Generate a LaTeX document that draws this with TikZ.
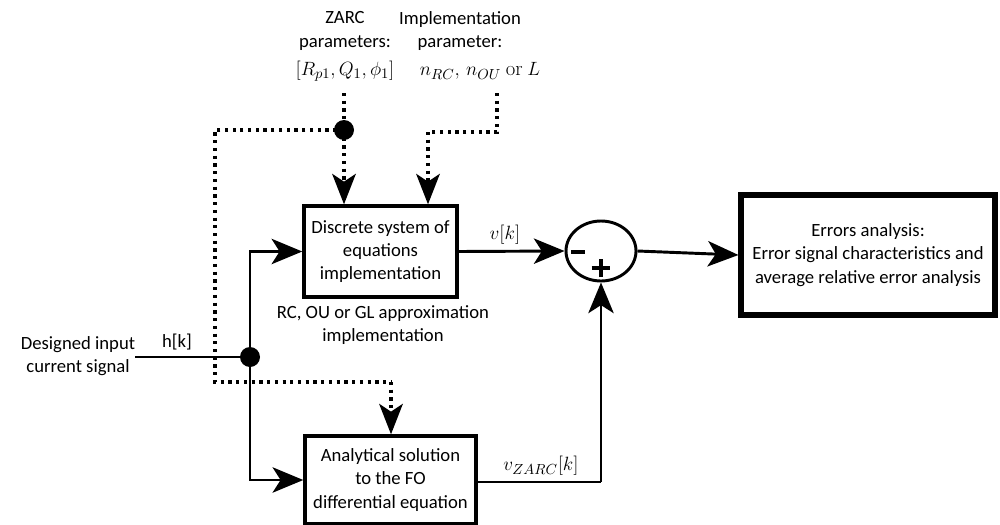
\documentclass[tikz,border=0pt]{standalone}
\usepackage{fontspec}
\setmainfont{Carlito}
\newfontfamily\lmrfont{Latin Modern Roman}
\usetikzlibrary{arrows.meta,shapes.geometric}
\begin{document}
\begin{tikzpicture}[x=0.75pt,y=-0.75pt,
  font=\fontsize{14pt}{17.5pt}\selectfont,
  blk/.style={draw,line width=2.6pt,rectangle,align=center,inner sep=0pt},
  lbl/.style={inner sep=0pt,align=center},
  mth/.style={inner sep=0pt,align=center,font=\fontsize{15.5pt}{18pt}\selectfont},
  sig/.style={line width=2.2pt},
  sgn/.style={line width=2.3pt},
  arr/.style={sig,-{Stealth[length=23pt,width=19pt,inset=6pt]}},
  dotl/.style={line width=2.6pt,dash pattern=on 2.4pt off 3.4pt},
  darr/.style={dotl,-{Stealth[length=23pt,width=18pt,inset=6pt,line width=0pt,sep=0pt]}},
  jdot/.style={circle,fill,inner sep=0pt,minimum size=15pt}]
\useasboundingbox (0,0) rectangle (1000,525);
\begin{scope}
\clip (0,0) rectangle (1000,525);
% blocks
\node[blk,minimum width=114.75pt,minimum height=68.25pt] (disc) at (380.5,251.5)
  {Discrete system of\\equations\\implementation};
\node[blk,minimum width=128.25pt,minimum height=66pt] (anal) at (390.5,480)
  {Analytical solution\\to the FO\\differential equation};
\node[blk,line width=3.8pt,minimum width=190.5pt,minimum height=90pt] (err) at (868,255)
  {Errors analysis:\\Error signal characteristics and\\average relative error analysis};
\node[draw,ellipse,line width=2.2pt,minimum width=52.5pt,minimum height=45pt,inner sep=0pt] (sum) at (601,251) {};
% signs
\coordinate (minus) at (578,252);
\coordinate (plus) at (601,268);
\draw[sgn] ([xshift=-5]minus) -- ([xshift=5]minus);
\draw[sgn] ([xshift=-7]plus) -- ([xshift=7]plus);
\draw[sgn] ([yshift=-7]plus) -- ([yshift=7]plus);
% texts
\node[lbl] (rcou) at (383,325) {RC, OU or GL approximation\\implementation};
\node[lbl] (input) at (78,356) {Designed input\\current signal};
\node[lbl] (hk) at (177,342) {h[k]};
\node[mth] (vk) at (505,235) {$v[k]$};
\node[mth] (vz) at (541,466) {$v_{ZARC}[k]$};
\node[lbl] (zarc) at (345,31) {ZARC\\parameters:};
\node[mth] (zarcm) at (345,71) {$[R_{p1},Q_1,\phi_1]$};
\node[lbl] (impl) at (460,31) {Implementation\\parameter:};
\node[mth] (implm) at (480,71) {$n_{RC},\, n_{OU}$ {\lmrfont or} $L$};
% coordinates
\coordinate (inS) at (135,357);
\node[jdot] (jin) at (250,357) {};
\node[jdot] (jz) at (344,130) {};
\coordinate (zS) at (344,93);
\coordinate (iS) at (497,93);
\coordinate (iC) at (497,132);
\coordinate (iD) at (428,132);
\coordinate (zL) at (215,130);
\coordinate (zB) at (215,382);
\coordinate (zR) at (391,382);
\coordinate (fb) at (601,482);
% solid signals
\draw[sig] (inS) -- (jin.center);
\draw[arr] (jin.center) |- (disc.west);
\draw[arr] (jin.center) |- (anal.west);
\draw[arr] (disc.east) -- (sum.west);
\draw[arr] (sum.east) -- (err.west);
\draw[sig] (anal.east |- fb) -- (fb);
\draw[arr] (fb) -- (sum.south);
% dotted
\draw[dotl] (zS) -- (jz.center);
\draw[darr] (jz.center) -- (disc.north -| jz);
\draw[dotl] (jz.center) -- (zL) -- (zB) -- (zR);
\draw[darr] (zR) -- (anal.north -| zR);
\draw[dotl] (iS) -- (iC) -- (iD);
\draw[darr] (iD) -- (disc.north -| iD);
\end{scope}
\end{tikzpicture}
\end{document}
